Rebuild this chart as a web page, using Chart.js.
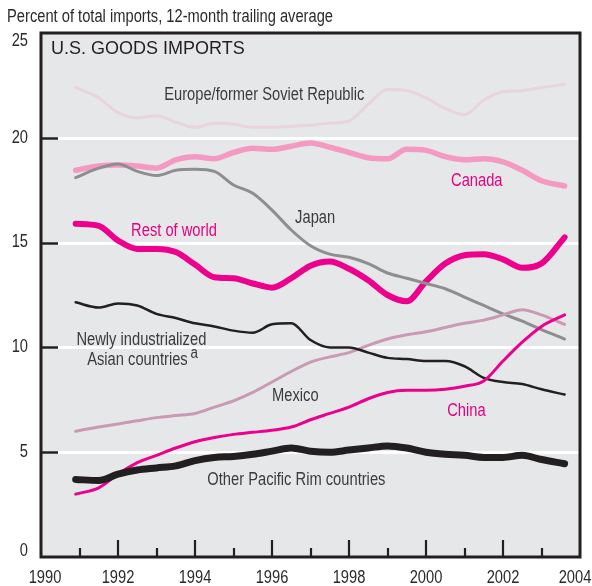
<!DOCTYPE html>
<html>
<head>
<meta charset="utf-8">
<script src="https://cdn.jsdelivr.net/npm/chart.js@4"></script>
<style>
  html, body { margin: 0; padding: 0; background: #ffffff; }
  #wrap { width: 592px; height: 586px; position: relative; }
</style>
</head>
<body>
<div id="wrap"><canvas id="c" width="592" height="586"></canvas></div>
<script>
// ---- data (12-month trailing average, percent of total US goods imports) ----
const years = [1990.9, 1991.5, 1992, 1992.5, 1993, 1993.5, 1994, 1994.5, 1995, 1995.5,
               1996, 1996.5, 1997, 1997.5, 1998, 1998.5, 1999, 1999.5, 2000, 2000.5,
               2001, 2001.5, 2002, 2002.5, 2003, 2003.6];

const europe = [22.4, 21.9, 21.2, 20.95, 21.05, 20.75, 20.5, 20.7, 20.65, 20.5,
                20.5, 20.55, 20.6, 20.7, 20.8, 21.6, 22.3, 22.25, 21.9, 21.4,
                21.1, 21.8, 22.2, 22.25, 22.4, 22.55];
const canada = [18.45, 18.65, 18.7, 18.65, 18.55, 18.95, 19.1, 19.0, 19.3, 19.5,
                19.45, 19.6, 19.75, 19.55, 19.3, 19.05, 19.0, 19.45, 19.4, 19.1,
                18.95, 19.0, 18.85, 18.45, 17.95, 17.7];
const japan = [18.1, 18.55, 18.75, 18.4, 18.2, 18.45, 18.5, 18.4, 17.75, 17.35,
               16.55, 15.6, 14.85, 14.45, 14.3, 14.0, 13.55, 13.3, 13.05, 12.8,
               12.4, 12.0, 11.6, 11.25, 10.85, 10.4];
const restOfWorld = [15.9, 15.8, 15.1, 14.7, 14.7, 14.55, 13.95, 13.35, 13.3, 13.05,
                     12.85, 13.3, 13.9, 14.1, 13.75, 13.2, 12.5, 12.2, 13.15, 14.0,
                     14.4, 14.45, 14.2, 13.8, 14.0, 15.25];
const newlyIndustrialized = [12.15, 11.9, 12.1, 12.0, 11.6, 11.4, 11.15, 11.0, 10.8, 10.7,
                             11.1, 11.15, 10.35, 10.0, 10.0, 9.75, 9.5, 9.45, 9.35, 9.35,
                             9.1, 8.55, 8.35, 8.25, 8.0, 7.75];
const mexico = [6.0, 6.2, 6.35, 6.5, 6.65, 6.75, 6.85, 7.15, 7.45, 7.85,
                8.35, 8.85, 9.3, 9.55, 9.75, 10.1, 10.4, 10.6, 10.75, 10.95,
                11.15, 11.3, 11.55, 11.8, 11.55, 11.1];
const china = [3.0, 3.3, 3.95, 4.5, 4.85, 5.2, 5.5, 5.7, 5.85, 5.95,
               6.05, 6.2, 6.55, 6.85, 7.15, 7.55, 7.85, 7.95, 7.95, 8.0,
               8.15, 8.4, 9.35, 10.25, 11.0, 11.55];
const otherPacificRim = [3.7, 3.65, 3.95, 4.15, 4.25, 4.35, 4.6, 4.75, 4.8, 4.9,
                         5.05, 5.2, 5.05, 5.0, 5.1, 5.2, 5.3, 5.2, 5.0, 4.9,
                         4.85, 4.75, 4.75, 4.85, 4.65, 4.45];

const yTicks = [0, 5, 10, 15, 20, 25];
const xMajorTicks = [1990, 1992, 1994, 1996, 1998, 2000, 2002, 2004];
const xMinorTicks = [1991, 1993, 1995, 1997, 1999, 2001, 2003];

const titleText = 'Percent of total imports, 12-month trailing average';
const panelTitle = 'U.S. GOODS IMPORTS';

// series labels placed in data coordinates (year, percent) at text baseline
const seriesLabels = [
  { text: 'Europe/former Soviet Republic', x: 1993.20, y: 21.8, color: '#3b3b3b' },
  { text: 'Canada', x: 2000.65, y: 17.7, color: '#e6007e' },
  { text: 'Japan', x: 1996.60, y: 15.93, color: '#3b3b3b' },
  { text: 'Rest of world', x: 1992.34, y: 15.32, color: '#e6007e' },
  { text: 'Newly industrialized', x: 1990.92, y: 10.11, color: '#3b3b3b' },
  { text: 'Asian countries', x: 1991.20, y: 9.16, color: '#3b3b3b' },
  { text: 'a', x: 1993.88, y: 9.49, color: '#3b3b3b', small: true },
  { text: 'Mexico', x: 1996.0, y: 7.44, color: '#3b3b3b' },
  { text: 'China', x: 2000.55, y: 6.75, color: '#e6007e' },
  { text: 'Other Pacific Rim countries', x: 1994.32, y: 3.43, color: '#3b3b3b' }
];

// ---- styling ----
const SANS = '"Liberation Sans", Arial, Helvetica, sans-serif';
const SQUEEZE = 0.84;   // horizontal compression to imitate a condensed face
const INK = '#231f20';

// draw condensed text: horizontally compressed Liberation Sans
function narrowText(ctx, text, x, y, size, align) {
  ctx.save();
  ctx.font = size + 'px ' + SANS;
  const w = ctx.measureText(text).width * SQUEEZE;
  let left = x;
  if (align === 'right') left = x - w;
  else if (align === 'center') left = x - w / 2;
  ctx.translate(left, y);
  ctx.scale(SQUEEZE, 1);
  ctx.textAlign = 'left';
  ctx.fillText(text, 0, 0);
  ctx.restore();
}

function pts(arr) { return years.map((x, i) => ({ x: x, y: arr[i] })); }

function ds(label, arr, color, width, order) {
  return {
    label: label, data: pts(arr), borderColor: color, borderWidth: width,
    pointRadius: 0, tension: 0.35, cubicInterpolationMode: 'monotone',
    fill: false, order: order, borderCapStyle: 'round', borderJoinStyle: 'round'
  };
}

const deco = {
  id: 'deco',
  beforeDatasetsDraw(chart) {
    const { ctx, chartArea: a, scales } = chart;
    const ys = scales.y;
    ctx.save();
    ctx.fillStyle = '#e6e7e9';
    ctx.fillRect(a.left, a.top, a.right - a.left, a.bottom - a.top);
    ctx.strokeStyle = '#ffffff';
    ctx.lineWidth = 3;
    yTicks.forEach(v => {
      if (v <= ys.min || v >= ys.max) return;
      const y = Math.round(ys.getPixelForValue(v)) + 0.5;
      ctx.beginPath(); ctx.moveTo(a.left, y); ctx.lineTo(a.right, y); ctx.stroke();
    });
    ctx.restore();
  },
  afterDatasetsDraw(chart) {
    const { ctx, chartArea: a, scales } = chart;
    const xs = scales.x, ys = scales.y;
    ctx.save();
    ctx.strokeStyle = INK;
    ctx.lineWidth = 2.5;
    yTicks.forEach(v => {
      if (v <= ys.min || v >= ys.max) return;
      const y = Math.round(ys.getPixelForValue(v)) + 0.5;
      ctx.beginPath(); ctx.moveTo(a.left, y); ctx.lineTo(a.left + 17, y); ctx.stroke();
    });
    ctx.lineWidth = 2.2;
    xMajorTicks.forEach(v => {
      if (v <= xs.min || v >= xs.max) return;
      const x = Math.round(xs.getPixelForValue(v));
      ctx.beginPath(); ctx.moveTo(x, a.bottom); ctx.lineTo(x, a.bottom - 17); ctx.stroke();
    });
    xMinorTicks.forEach(v => {
      const x = Math.round(xs.getPixelForValue(v));
      ctx.beginPath(); ctx.moveTo(x, a.bottom); ctx.lineTo(x, a.bottom - 9); ctx.stroke();
    });
    ctx.lineWidth = 3;
    ctx.strokeRect(a.left, a.top, a.right - a.left, a.bottom - a.top);

    // y tick labels
    ctx.fillStyle = '#2a2a2a';
    ctx.textBaseline = 'middle';
    yTicks.forEach(v => {
      let y = ys.getPixelForValue(v);
      if (v === ys.max) y += 8;
      if (v === ys.min) y -= 6;
      narrowText(ctx, String(v), a.left - 13, y, 17.5, 'right');
    });
    // x tick labels
    xMajorTicks.forEach((v, i) => {
      let x = xs.getPixelForValue(v);
      if (i === 0) x += 4;
      if (i === xMajorTicks.length - 1) x -= 5;
      narrowText(ctx, String(v), x, a.bottom + 21, 17.5, 'center');
    });

    // titles
    narrowText(ctx, titleText, 7, 17, 17.5, 'left');
    ctx.font = '18px ' + SANS;
    ctx.fillStyle = INK;
    ctx.textAlign = 'left';
    ctx.fillText(panelTitle, a.left + 10, a.top + 16);

    // series labels
    ctx.textBaseline = 'alphabetic';
    seriesLabels.forEach(l => {
      ctx.fillStyle = l.color;
      narrowText(ctx, l.text, xs.getPixelForValue(l.x), ys.getPixelForValue(l.y),
                 l.small ? 16 : 17.5, 'left');
    });
    ctx.restore();
  }
};

new Chart(document.getElementById('c'), {
  type: 'line',
  data: {
    datasets: [
      ds('Europe/former Soviet Republic', europe, '#e9d3dc', 3, 8),
      ds('Canada', canada, '#f49ac2', 5.5, 7),
      ds('Rest of world', restOfWorld, '#ec008c', 6, 6),
      ds('Japan', japan, '#8e8e8e', 3, 5),
      ds('Mexico', mexico, '#c99ab4', 3, 4),
      ds('Newly industrialized Asian countries', newlyIndustrialized, INK, 2.5, 3),
      ds('China', china, '#ec008c', 3, 2),
      ds('Other Pacific Rim countries', otherPacificRim, INK, 7, 1)
    ]
  },
  options: {
    responsive: false,
    animation: false,
    devicePixelRatio: 1,
    layout: { padding: { left: 41, right: 12, top: 33, bottom: 29 } },
    plugins: { legend: { display: false }, tooltip: { enabled: false } },
    scales: {
      x: {
        type: 'linear', min: 1990, max: 2004,
        grid: { display: false, drawTicks: false }, border: { display: false },
        ticks: { display: false },
        afterFit(s) { s.height = 0; }
      },
      y: {
        type: 'linear', min: 0, max: 25,
        grid: { display: false, drawTicks: false }, border: { display: false },
        ticks: { display: false },
        afterFit(s) { s.width = 0; }
      }
    }
  },
  plugins: [deco]
});
</script>
</body>
</html>
